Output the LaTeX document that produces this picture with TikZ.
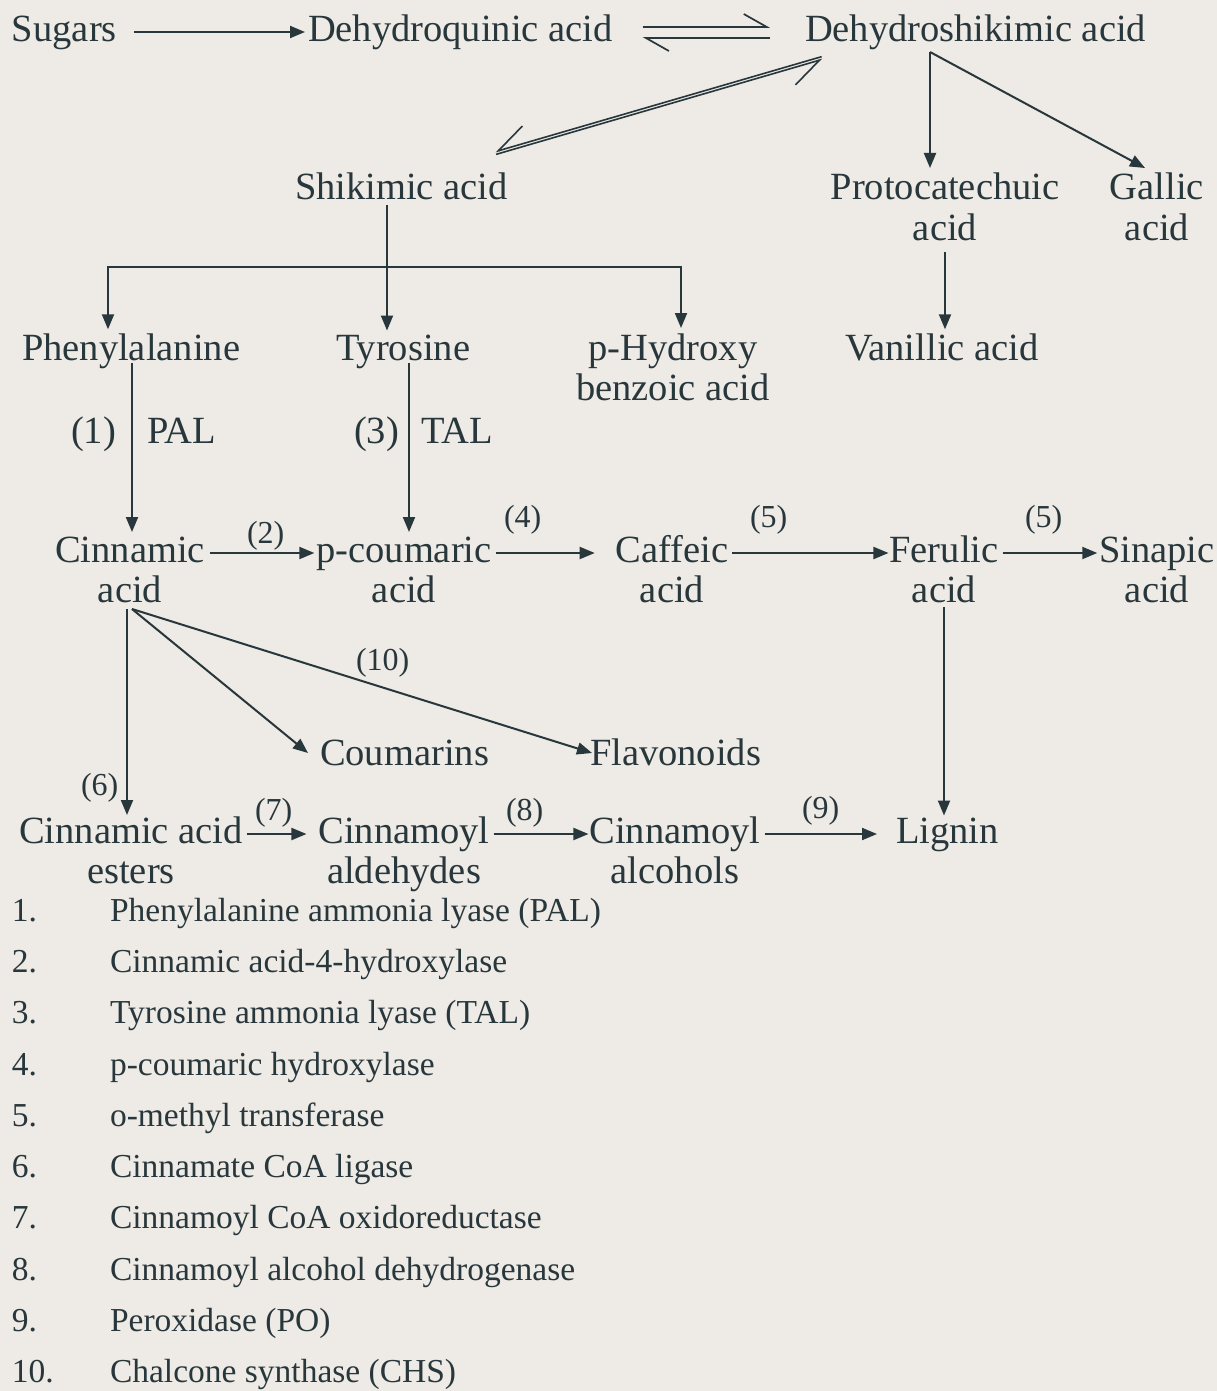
\documentclass[tikz,border=0pt]{standalone}
\usepackage{fontspec}
\setmainfont{Liberation Serif}
\usetikzlibrary{arrows.meta,calc}
\definecolor{ink}{RGB}{40,55,60}
\definecolor{paper}{RGB}{238,234,229}
\newcommand\twoline[2]{\begin{tabular}[t]{@{}c@{}}#1\\#2\end{tabular}}
\begin{document}
\begin{tikzpicture}[x=1pt,y=-1pt,
  every node/.style={inner sep=0pt, outer sep=0pt, text=ink, font=\fontsize{38.5}{40}\selectfont},
  nd/.style={anchor=base west},
  nc/.style={anchor=base},
  lbl/.style={anchor=base west, font=\fontsize{32}{36}\selectfont},
  leg/.style={anchor=base west, font=\fontsize{33.5}{36}\selectfont},
  arr/.style={draw=ink, line width=2pt, -{Triangle[length=15pt,width=12pt]}},
  ln/.style={draw=ink, line width=2pt},
  harpL/.style={draw=ink, line width=1.7pt, -{Straight Barb[left,length=23pt,width=26pt]}},
  harpR/.style={draw=ink, line width=1.6pt, -{Straight Barb[right,length=30pt,width=34pt]}},
]
\fill[paper] (0,0) rectangle (1217,1391);
\useasboundingbox (0,0) rectangle (1217,1391);

% compounds
\node[nd] (sug) at (12,42) {Sugars};
\node[nd] (dqa) at (308,42) {Dehydroquinic acid};
\node[nd] (dhs) at (805,42) {Dehydroshikimic acid};
\node[nd] (shk) at (295,200) {Shikimic acid};
\node[nc] (pca) at (945,200) {\twoline{Protocatechuic}{acid}};
\node[nc] (gal) at (1157,200) {\twoline{Gallic}{acid}};
\node[nd] (phe) at (22,360) {Phenylalanine};
\node[nd] (tyr) at (336,360) {Tyrosine};
\node[nc] (phb) at (673,360) {\twoline{p-Hydroxy}{benzoic acid}};
\node[nd] (van) at (845,360) {Vanillic acid};
\node[nc] (cin) at (130,562) {\twoline{Cinnamic}{acid}};
\node[nc] (pco) at (404,562) {\twoline{p-coumaric}{acid}};
\node[nc] (caf) at (672,562) {\twoline{Caffeic}{acid}};
\node[nc] (fer) at (944,562) {\twoline{Ferulic}{acid}};
\node[nc] (sin) at (1157,562) {\twoline{Sinapic}{acid}};
\node[nd] (cou) at (320,765) {Coumarins};
\node[nd] (fla) at (590,765) {Flavonoids};
\node[nc] (cae) at (131,843) {\twoline{Cinnamic acid}{esters}};
\node[nc] (cal) at (404,843) {\twoline{Cinnamoyl}{aldehydes}};
\node[nc] (cao) at (675,843) {\twoline{Cinnamoyl}{alcohols}};
\node[nd] (lig) at (896,843) {Lignin};

% step labels
\node[nd] (l1) at (71,443) {(1)};
\node[nd] (lpal) at (147,443) {PAL};
\node[nd] (l3) at (354,443) {(3)};
\node[nd] (ltal) at (421,443) {TAL};
\node[lbl] (l2) at (247,543) {(2)};
\node[lbl] (l4) at (504,527) {(4)};
\node[lbl] (l5a) at (750,527) {(5)};
\node[lbl] (l5b) at (1025,527) {(5)};
\node[lbl] (l10) at (356,670) {(10)};
\node[lbl] (l6) at (81,795) {(6)};
\node[lbl] (l7) at (255,820) {(7)};
\node[lbl] (l8) at (506,820) {(8)};
\node[lbl] (l9) at (802,818) {(9)};

% legend
\foreach \nm/\tx [count=\i from 0] in {1./Phenylalanine ammonia lyase (PAL),
  2./Cinnamic acid-4-hydroxylase, 3./Tyrosine ammonia lyase (TAL),
  4./p-coumaric hydroxylase, 5./o-methyl transferase,
  6./Cinnamate CoA ligase, 7./Cinnamoyl CoA oxidoreductase,
  8./Cinnamoyl alcohol dehydrogenase, 9./Peroxidase (PO),
  10./Chalcone synthase (CHS)}{
  \node[leg] (num\i) at (12,{921+51.33*\i}) {\nm};
  \node[leg] (leg\i) at (110,{921+51.33*\i}) {\tx};
}

% row 1
\draw[arr] ($(sug.base east)+(17,-10)$) -- ($(dqa.base west)+(-3,-10)$);
\draw[harpL] ($(dqa.base east)+(30,-15)$) -- ($(dhs.base west)+(-35,-15)$);
\draw[harpL] ($(dhs.base west)+(-35,-4)$) -- ($(dqa.base east)+(30,-4)$);

% diagonal equilibrium
\coordinate (dA) at ($(dhs.base west)+(17,16)$);
\coordinate (dB) at ($(shk.base east)+(-12,-47)$);
\draw[harpR] ($(dB)!1.4pt!-90:(dA)$) -- ($(dA)!1.4pt!90:(dB)$);
\draw[harpR] ($(dA)!1.4pt!-90:(dB)$) -- ($(dB)!1.4pt!90:(dA)$);

% dehydroshikimic branches
\coordinate (dhsb) at ($(dhs.base west)+(125,10)$);
\draw[arr] (dhsb) -- ($(dhsb |- pca.north)+(0,-4)$);
\draw[arr] (dhsb) -- ($(gal.north)+(-12,-4)$);
\draw[arr] (pca.south) -- ($(pca.south |- van.north)+(0,-4)$);

% shikimic split
\coordinate (shkb) at ($(shk.base west)+(92,5)$);
\coordinate (jn) at ($(shkb)+(0,62)$);
\draw[ln] (shkb) -- (jn);
\draw[arr] (jn) -| ($(phe.north west)+(86,-4)$);
\draw[arr] (jn) -| ($(phb.north)+(8,-4)$);
\draw[arr] (jn) -- ($(jn |- tyr.north)+(0,-4)$);

% PAL / TAL
\coordinate (phs) at ($(phe.base west)+(110,3)$);
\draw[arr] (phs) -- ($(phs |- cin.north)+(0,-2)$);
\coordinate (tys) at ($(tyr.base west)+(73,3)$);
\draw[arr] (tys) -- ($(tys |- pco.north)+(0,-2)$);

% row 4
\draw[arr] ($(cin.base east)+(5,-9)$) -- ($(pco.base west)+(-2,-9)$);
\draw[arr] ($(pco.base east)+(4,-9)$) -- ($(caf.base west)+(-21,-9)$);
\draw[arr] ($(caf.base east)+(4,-9)$) -- ($(fer.base west)+(-1,-9)$);
\draw[arr] ($(fer.base east)+(4,-9)$) -- ($(sin.base west)+(-2,-9)$);

% ferulic to lignin
\coordinate (fes) at ($(fer.base)+(0,45)$);
\draw[arr] (fes) -- ($(fes |- lig.north)+(0,-2)$);

% cinnamic branches
\coordinate (cinb) at ($(cin.base)+(2,47)$);
\draw[arr] ($(cinb)+(-5,0)$) -- ($(cinb |- cae.north)+(-5,0)$);
\draw[arr] (cinb) -- ($(cou.base west)+(-12,-12)$);
\draw[arr] (cinb) -- ($(fla.base west)+(2,-12)$);

% row 6
\draw[arr] ($(cae.base east)+(4,-9)$) -- ($(cal.base west)+(-12,-9)$);
\draw[arr] ($(cal.base east)+(4,-9)$) -- ($(cao.base west)+(-1,-9)$);
\draw[arr] ($(cao.base east)+(4,-9)$) -- ($(lig.base west)+(-19,-9)$);
\end{tikzpicture}
\end{document}
